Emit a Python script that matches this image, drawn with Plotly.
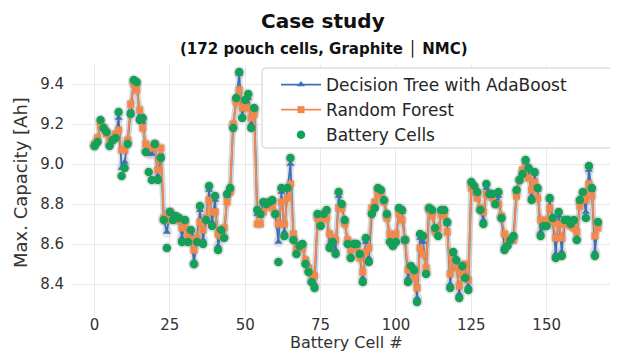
import plotly.graph_objects as go

battery_cells = [
    9.09, 9.11, 9.22, 9.18, 9.16, 9.09, 9.12, 9.13, 9.26, 8.94,
    8.98, 9.10, 9.25, 9.42, 9.41, 9.22, 9.23, 9.06, 8.96, 8.92,
    9.10, 8.92, 9.03, 8.72, 8.58, 8.76, 8.72, 8.74, 8.73, 8.61,
    8.72, 8.61, 8.67, 8.50, 8.61, 8.79, 8.60, 8.72, 8.89, 8.69,
    8.84, 8.57, 8.67, 8.63, 8.85, 8.88, 9.18, 9.33, 9.46, 9.23,
    9.32, 9.35, 9.18, 9.28, 8.77, 8.75, 8.81, 8.80, 8.81, 8.82,
    8.75, 8.51, 8.88, 8.64, 8.88, 9.03, 8.62, 8.55, 8.59, 8.60,
    8.50, 8.46, 8.41, 8.38, 8.75, 8.69, 8.75, 8.77, 8.58, 8.61,
    8.55, 8.86, 8.80, 8.72, 8.60, 8.53, 8.60, 8.60, 8.55, 8.41,
    8.63, 8.51, 8.75, 8.78, 8.88, 8.87, 8.82, 8.75, 8.61, 8.59,
    8.61, 8.78, 8.77, 8.62, 8.41, 8.49, 8.47, 8.31, 8.65, 8.64,
    8.45, 8.78, 8.77, 8.68, 8.64, 8.77, 8.77, 8.71, 8.38, 8.56,
    8.52, 8.33, 8.49, 8.43, 8.37, 8.91, 8.89, 8.86, 8.77, 8.70,
    8.90, 8.85, 8.85, 8.80, 8.86, 8.73, 8.57, 8.59, 8.62, 8.64,
    8.87, 8.92, 8.95, 9.02, 8.98, 8.82, 8.96, 8.88, 8.64, 8.69,
    8.69, 8.83, 8.73, 8.53, 8.76, 8.54, 8.72, 8.72, 8.70, 8.72,
    8.62, 8.82, 8.86, 8.73, 8.99, 8.88, 8.54, 8.71,
]

random_forest = [
    9.10, 9.13, 9.19, 9.18, 9.15, 9.11, 9.12, 9.15, 9.17, 9.07,
    9.07, 9.12, 9.30, 9.40, 9.37, 9.27, 9.18, 9.10, 9.08, 9.08,
    9.10, 8.97, 9.08, 8.73, 8.72, 8.76, 8.74, 8.72, 8.72, 8.68,
    8.70, 8.64, 8.62, 8.57, 8.63, 8.71, 8.67, 8.73, 8.82, 8.76,
    8.76, 8.65, 8.64, 8.68, 8.81, 8.86, 9.20, 9.31, 9.37, 9.28,
    9.29, 9.28, 9.23, 9.25, 8.70, 8.70, 8.76, 8.79, 8.79, 8.78,
    8.75, 8.70, 8.81, 8.70, 8.83, 8.90, 8.65, 8.58, 8.59, 8.58,
    8.52, 8.48, 8.45, 8.44, 8.73, 8.71, 8.73, 8.73, 8.65, 8.63,
    8.62, 8.78, 8.78, 8.70, 8.62, 8.57, 8.59, 8.58, 8.53, 8.46,
    8.56, 8.58, 8.78, 8.81, 8.85, 8.85, 8.81, 8.73, 8.65, 8.62,
    8.65, 8.75, 8.72, 8.62, 8.47, 8.47, 8.43, 8.38, 8.58, 8.55,
    8.48, 8.77, 8.74, 8.66, 8.68, 8.75, 8.74, 8.66, 8.45, 8.52,
    8.48, 8.39, 8.45, 8.50, 8.42, 8.88, 8.86, 8.83, 8.78, 8.76,
    8.85, 8.85, 8.83, 8.80, 8.80, 8.74, 8.65, 8.62, 8.63, 8.62,
    8.84, 8.92, 8.97, 8.98, 8.93, 8.87, 8.91, 8.83, 8.72, 8.70,
    8.72, 8.78, 8.71, 8.63, 8.70, 8.63, 8.70, 8.71, 8.69, 8.68,
    8.66, 8.79, 8.83, 8.82, 8.90, 8.84, 8.64, 8.68,
]

decision_tree_adaboost = [
    9.09, 9.12, 9.21, 9.18, 9.16, 9.10, 9.12, 9.14, 9.23, 8.98,
    9.01, 9.11, 9.27, 9.41, 9.40, 9.24, 9.21, 9.07, 9.05, 9.05,
    9.10, 8.94, 9.05, 8.72, 8.66, 8.76, 8.73, 8.73, 8.73, 8.63,
    8.71, 8.62, 8.65, 8.50, 8.62, 8.77, 8.62, 8.72, 8.87, 8.71,
    8.82, 8.59, 8.66, 8.64, 8.84, 8.87, 9.19, 9.32, 9.45, 9.24,
    9.31, 9.33, 9.20, 9.27, 8.75, 8.74, 8.80, 8.80, 8.80, 8.81,
    8.75, 8.61, 8.86, 8.66, 8.87, 9.00, 8.63, 8.56, 8.59, 8.59,
    8.51, 8.47, 8.42, 8.40, 8.74, 8.70, 8.74, 8.76, 8.60, 8.62,
    8.57, 8.84, 8.79, 8.71, 8.61, 8.54, 8.60, 8.59, 8.54, 8.43,
    8.61, 8.53, 8.76, 8.79, 8.87, 8.86, 8.82, 8.74, 8.62, 8.60,
    8.62, 8.77, 8.76, 8.62, 8.43, 8.48, 8.46, 8.33, 8.63, 8.61,
    8.46, 8.78, 8.76, 8.67, 8.65, 8.76, 8.76, 8.70, 8.40, 8.55,
    8.51, 8.35, 8.48, 8.45, 8.39, 8.90, 8.88, 8.85, 8.77, 8.72,
    8.88, 8.85, 8.84, 8.80, 8.84, 8.73, 8.59, 8.60, 8.62, 8.63,
    8.86, 8.92, 8.96, 9.01, 8.97, 8.84, 8.95, 8.87, 8.66, 8.69,
    8.70, 8.82, 8.72, 8.55, 8.74, 8.56, 8.71, 8.72, 8.70, 8.71,
    8.63, 8.81, 8.85, 8.76, 8.97, 8.87, 8.56, 8.70,
]

cell_index = list(range(len(battery_cells)))

x_tick_values = [0, 25, 50, 75, 100, 125, 150]
y_tick_values = [8.4, 8.6, 8.8, 9.0, 9.2, 9.4]

BLUE = "#3d6fb5"
ORANGE = "#f2884b"
GREEN = "#14a058"
HALO = "rgba(170,170,170,0.28)"
FONT = "DejaVu Sans, Liberation Sans, sans-serif"
TXT = "#333333"

# The page body has an 8px margin, so the figure is drawn 8px in from the
# window corner; the figure is sized so it ends exactly at the window edge.
OFF = 8
W, H = 618 - OFF, 353 - OFF
ML, MR, MT, MB = 71 - OFF, 2, 65 - OFF, 36
PW, PH = W - ML - MR, H - MT - MB


def px(sx):
    """screen x pixel -> paper fraction"""
    return (sx - OFF - ML) / PW


def py(sy):
    """screen y pixel -> paper fraction"""
    return (H - MB - (sy - OFF)) / PH


fig = go.Figure()

# soft grey halo behind the marks
for ys in (decision_tree_adaboost, random_forest):
    fig.add_trace(go.Scatter(x=cell_index, y=ys, mode="lines+markers",
                             line=dict(color=HALO, width=6),
                             marker=dict(color=HALO, size=11),
                             showlegend=False, hoverinfo="skip"))
fig.add_trace(go.Scatter(x=cell_index, y=battery_cells, mode="markers",
                         marker=dict(color=HALO, size=12),
                         showlegend=False, hoverinfo="skip"))

fig.add_trace(go.Scatter(x=cell_index, y=decision_tree_adaboost, mode="lines+markers",
                         name="Decision Tree with AdaBoost",
                         line=dict(color=BLUE, width=1.8),
                         marker=dict(symbol="triangle-up", size=7, color=BLUE)))
fig.add_trace(go.Scatter(x=cell_index, y=random_forest, mode="lines+markers",
                         name="Random Forest",
                         line=dict(color=ORANGE, width=1.8),
                         marker=dict(symbol="square", size=7, color=ORANGE)))
fig.add_trace(go.Scatter(x=cell_index, y=battery_cells, mode="markers",
                         name="Battery Cells",
                         marker=dict(symbol="circle", size=8.5, color=GREEN)))

# legend frame with rounded corners (pixel based)
x0, x1, y0, y1, r = 262, 612, 68, 148, 4
path = (f"M {px(x0 + r)},{py(y0)} L {px(x1 - r)},{py(y0)} "
        f"Q {px(x1)},{py(y0)} {px(x1)},{py(y0 + r)} "
        f"L {px(x1)},{py(y1 - r)} Q {px(x1)},{py(y1)} {px(x1 - r)},{py(y1)} "
        f"L {px(x0 + r)},{py(y1)} Q {px(x0)},{py(y1)} {px(x0)},{py(y1 - r)} "
        f"L {px(x0)},{py(y0 + r)} Q {px(x0)},{py(y0)} {px(x0 + r)},{py(y0)} Z")
fig.add_shape(type="path", path=path, xref="paper", yref="paper",
              fillcolor="white", line=dict(color="#d0d0d0", width=1), layer="above")

annotations = [
    dict(text="<b>Case study</b>", x=px(323), y=py(21),
         font=dict(size=20, color="#111111", family=FONT)),
    dict(text="<b>(172 pouch cells, Graphite │ NMC)</b>", x=px(324), y=py(48),
         font=dict(size=15, color="#111111", family=FONT)),
    dict(text="Battery Cell #", x=px(346), y=py(342),
         font=dict(size=16, color=TXT, family=FONT)),
    dict(text="Max. Capacity [Ah]", x=px(20), y=py(183), textangle=-90,
         font=dict(size=18, color=TXT, family=FONT)),
]
for a in annotations:
    a.update(xref="paper", yref="paper", showarrow=False,
             xanchor="center", yanchor="middle")

fig.update_layout(
    width=W, height=H,
    margin=dict(l=ML, r=MR, t=MT, b=MB, autoexpand=False),
    paper_bgcolor="white", plot_bgcolor="white",
    font=dict(family=FONT, color=TXT, size=15),
    showlegend=True,
    legend=dict(x=px(276), y=py(67), xanchor="left", yanchor="top",
                bgcolor="rgba(0,0,0,0)", borderwidth=0,
                font=dict(size=17, color="#262626", family=FONT),
                tracegroupgap=0, itemwidth=40),
    annotations=annotations,
)

fig.update_xaxes(range=[-7.8, 173], tickvals=x_tick_values, automargin=False,
                 ticklabelstandoff=-3,
                 showgrid=True, gridcolor="#e8e8e8", gridwidth=1.3,
                 zeroline=False, showline=False, ticks="",
                 tickfont=dict(size=15, color=TXT))
fig.update_yaxes(range=[8.235, 9.495], tickvals=y_tick_values, tickformat=".1f",
                 automargin=False, ticklabelstandoff=6,
                 showgrid=True, gridcolor="#e8e8e8", gridwidth=1.3,
                 zeroline=False, showline=False, ticks="",
                 tickfont=dict(size=15, color=TXT))

fig.write_html("out.html")
